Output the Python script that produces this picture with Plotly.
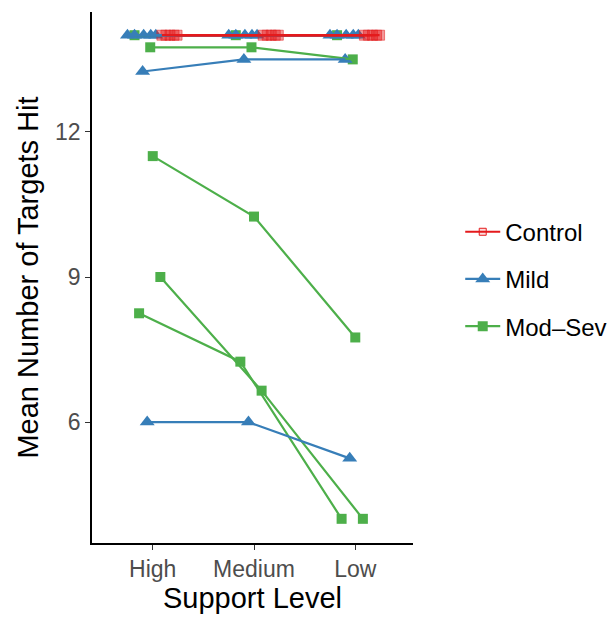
import plotly.graph_objects as go

levels = ["High", "Medium", "Low"]
level_pos = [1, 2, 3]

# Each participant: values at High/Medium/Low, plus the horizontal jitter used in the plot
control_values = [[14, 14, 14], [14, 14, 14], [14, 14, 14], [14, 14, 14], [14, 14, 14]]
control_jitter = [0.09, 0.13, 0.17, 0.21, 0.24]

mild_values = [[14, 14, 14], [14, 14, 14], [14, 14, 14], [14, 14, 14], [14, 14, 14],
               [13.25, 13.5, 13.5], [6, 6, 5.25]]
mild_jitter = [-0.25, -0.18, -0.09, -0.02, 0.03, -0.10, -0.055]

modsev_values = [[14, 14, 14], [13.75, 13.75, 13.5], [11.5, 10.25, 7.75],
                 [9, 6.65, 4], [8.25, 7.25, 4]]
modsev_jitter = [-0.18, -0.025, 0.0, 0.075, -0.135]

RED = "#E41A1C"
BLUE = "#377EB8"
GREEN = "#4DAF4A"

groups = [
    ("Mod\u2013Sev", modsev_values, modsev_jitter, GREEN,
     dict(symbol="square", size=10, color=GREEN)),
    ("Mild", mild_values, mild_jitter, BLUE,
     dict(symbol="triangle-up", size=13, color=BLUE)),
    ("Control", control_values, control_jitter, RED,
     dict(symbol="square", size=10, color="rgba(228,26,28,0.45)",
          line=dict(color="rgba(228,26,28,0.5)", width=1))),
]

fig = go.Figure()

# points layer
for name, vals, jit, col, mk in groups:
    for v, j in zip(vals, jit):
        fig.add_trace(go.Scatter(x=[p + j for p in level_pos], y=v, mode="markers",
                                 marker=mk, showlegend=False, hoverinfo="skip"))
# lines layer (drawn over points)
for name, vals, jit, col, mk in groups:
    for v, j in zip(vals, jit):
        fig.add_trace(go.Scatter(x=[p + j for p in level_pos], y=v, mode="lines",
                                 line=dict(color=col, width=2.2), showlegend=False,
                                 hoverinfo="skip"))

# legend entries
legend_order = ["Control", "Mild", "Mod\u2013Sev"]
gmap = {g[0]: g for g in groups}
for nm in legend_order:
    _, _, _, col, mk = gmap[nm]
    lmk = dict(mk)
    if nm == "Control":
        lmk = dict(symbol="square", size=7, color="rgba(228,26,28,0.15)",
                   line=dict(color=RED, width=1))
    fig.add_trace(go.Scatter(x=[None], y=[None], mode="lines+markers", name=nm,
                             line=dict(color=col, width=2.2), marker=lmk,
                             legendgroup=nm))

FONT = "Liberation Sans, Arial, sans-serif"
axis_common = dict(showline=True, linecolor="black", linewidth=1.5, showgrid=False,
                   zeroline=False, ticks="outside", ticklen=5, tickwidth=1.3,
                   tickcolor="#333333", automargin=False,
                   tickfont=dict(family=FONT, size=23, color="#4D4D4D"),
                   mirror=False)

fig.update_layout(
    width=612, height=619,
    margin=dict(l=92, r=199, t=12, b=76),
    plot_bgcolor="white", paper_bgcolor="white",
    font=dict(family=FONT, color="black"),
    xaxis=dict(axis_common, range=[0.4, 3.57], tickvals=level_pos, ticktext=levels,
               title=dict(text="Support Level", font=dict(size=29), standoff=6)),
    yaxis=dict(axis_common, range=[3.5, 14.48], tickvals=[6, 9, 12],
               title=dict(text="Mean Number of Targets Hit", font=dict(size=29),
                          standoff=8)),
    legend=dict(xref="container", yref="container", x=0.752, xanchor="left",
                y=0.549, yanchor="middle",
                font=dict(size=24), tracegroupgap=13, bgcolor="rgba(0,0,0,0)",
                itemwidth=35),
)

fig.write_html("out.html")
